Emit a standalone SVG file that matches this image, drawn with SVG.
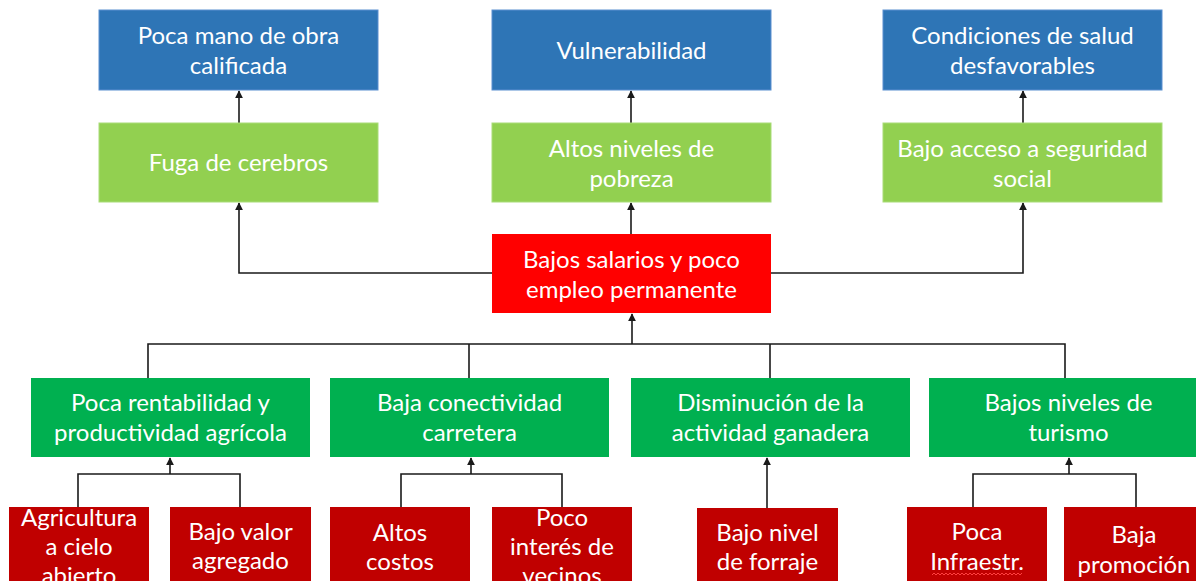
<svg xmlns="http://www.w3.org/2000/svg" width="1196" height="581" viewBox="0 0 1196 581">
  <style>
    .t { font-family: Lato, "Open Sans", "Liberation Sans", sans-serif; font-size: 24px; fill: #ffffff; text-anchor: middle; }
    .blue { fill: #2E75B6; stroke: #5B8FD0; stroke-width: 1; }
    .lgreen { fill: #92D050; stroke: #A9DC78; stroke-width: 1; }
    .red { fill: #FF0000; }
    .green { fill: #00B050; }
    .dred { fill: #C00000; }
    .c { fill: none; stroke: #1a1a1a; stroke-width: 1.6; }
    .ca { fill: none; stroke: #1a1a1a; stroke-width: 1.6; marker-end: url(#ah); }
  </style>
  <defs>
    <marker id="ah" viewBox="0 0 10 10" refX="9" refY="5" markerWidth="8" markerHeight="8" markerUnits="userSpaceOnUse" orient="auto">
      <path d="M0,0 L10,5 L0,10 Z" fill="#1a1a1a"/>
    </marker>
  </defs>
  <rect width="1196" height="581" fill="#ffffff"/>

  <g id="connectors">
    <path class="ca" d="M239,123 V91"/>
    <path class="ca" d="M631,123 V91"/>
    <path class="ca" d="M1023,123 V91"/>
    <path class="ca" d="M492,273 H239 V203"/>
    <path class="ca" d="M631,234 V203"/>
    <path class="ca" d="M771,273 H1023 V203"/>
    <path class="c" d="M148,378 V344 H1065 V378"/>
    <path class="c" d="M469,378 V344"/>
    <path class="c" d="M770,378 V344"/>
    <path class="ca" d="M632,344 V314"/>
    <path class="c" d="M78,507 V474 H240 V507"/>
    <path class="ca" d="M170,474 V458"/>
    <path class="c" d="M401,507 V474 H562 V507"/>
    <path class="ca" d="M471,474 V458"/>
    <path class="ca" d="M767,508 V458"/>
    <path class="c" d="M973,507 V474 H1136 V507"/>
    <path class="ca" d="M1069,474 V458"/>
  </g>

  <g id="n-poca-mano">
    <rect class="blue" x="99" y="10" width="279" height="80"/>
    <text class="t" x="238.5" y="44">Poca mano de obra</text>
    <text class="t" x="238.5" y="74">calificada</text>
  </g>
  <g id="n-vulnerabilidad">
    <rect class="blue" x="492" y="10" width="279" height="80"/>
    <text class="t" x="631.5" y="59">Vulnerabilidad</text>
  </g>
  <g id="n-condiciones">
    <rect class="blue" x="883" y="10" width="279" height="80"/>
    <text class="t" x="1022.5" y="44">Condiciones de salud</text>
    <text class="t" x="1022.5" y="74">desfavorables</text>
  </g>

  <g id="n-fuga">
    <rect class="lgreen" x="99" y="123" width="279" height="79"/>
    <text class="t" x="238.5" y="171">Fuga de cerebros</text>
  </g>
  <g id="n-altos-niveles">
    <rect class="lgreen" x="492" y="123" width="279" height="79"/>
    <text class="t" x="631.5" y="157">Altos niveles de</text>
    <text class="t" x="631.5" y="187">pobreza</text>
  </g>
  <g id="n-bajo-acceso">
    <rect class="lgreen" x="883" y="123" width="279" height="79"/>
    <text class="t" x="1022.5" y="157">Bajo acceso a seguridad</text>
    <text class="t" x="1022.5" y="187">social</text>
  </g>

  <g id="n-bajos-salarios">
    <rect class="red" x="492" y="234" width="279" height="79"/>
    <text class="t" x="631.5" y="268">Bajos salarios y poco</text>
    <text class="t" x="631.5" y="298">empleo permanente</text>
  </g>

  <g id="n-poca-rentabilidad">
    <rect class="green" x="31" y="378" width="279" height="79"/>
    <text class="t" x="170.5" y="411">Poca rentabilidad y</text>
    <text class="t" x="170.5" y="441">productividad agrícola</text>
  </g>
  <g id="n-baja-conectividad">
    <rect class="green" x="330" y="378" width="279" height="79"/>
    <text class="t" x="469.5" y="411">Baja conectividad</text>
    <text class="t" x="469.5" y="441">carretera</text>
  </g>
  <g id="n-disminucion">
    <rect class="green" x="631" y="378" width="279" height="79"/>
    <text class="t" x="770.5" y="411">Disminución de la</text>
    <text class="t" x="770.5" y="441">actividad ganadera</text>
  </g>
  <g id="n-bajos-turismo">
    <rect class="green" x="929" y="378" width="279" height="79"/>
    <text class="t" x="1068.5" y="411">Bajos niveles de</text>
    <text class="t" x="1068.5" y="441">turismo</text>
  </g>

  <g id="n-agricultura">
    <rect class="dred" x="9" y="507" width="140" height="90"/>
    <text class="t" x="79" y="526">Agricultura</text>
    <text class="t" x="79" y="555">a cielo</text>
    <text class="t" x="79" y="584">abierto</text>
  </g>
  <g id="n-bajo-valor">
    <rect class="dred" x="170" y="507" width="141" height="90"/>
    <text class="t" x="240.5" y="540">Bajo valor</text>
    <text class="t" x="240.5" y="569">agregado</text>
  </g>
  <g id="n-altos-costos">
    <rect class="dred" x="330" y="507" width="140" height="90"/>
    <text class="t" x="400" y="541">Altos</text>
    <text class="t" x="400" y="570">costos</text>
  </g>
  <g id="n-poco-interes">
    <rect class="dred" x="492" y="507" width="140" height="90"/>
    <text class="t" x="562" y="526">Poco</text>
    <text class="t" x="562" y="555">interés de</text>
    <text class="t" x="562" y="584">vecinos</text>
  </g>
  <g id="n-bajo-nivel">
    <rect class="dred" x="697" y="508" width="141" height="90"/>
    <text class="t" x="767.5" y="541">Bajo nivel</text>
    <text class="t" x="767.5" y="570">de forraje</text>
  </g>
  <g id="n-poca-infraestr">
    <rect class="dred" x="907" y="507" width="140" height="90"/>
    <text class="t" x="977" y="540">Poca</text>
    <text class="t" x="977" y="570">Infraestr.</text>
    <path d="M932,575 l2,-2 l2,2 l2,-2 l2,2 l2,-2 l2,2 l2,-2 l2,2 l2,-2 l2,2 l2,-2 l2,2 l2,-2 l2,2 l2,-2 l2,2 l2,-2 l2,2 l2,-2 l2,2 l2,-2 l2,2 l2,-2 l2,2 l2,-2 l2,2 l2,-2 l2,2 l2,-2 l2,2 l2,-2 l2,2 l2,-2 l2,2 l2,-2 l2,2 l2,-2 l2,2 l2,-2 l2,2 l2,-2 l2,2 l2,-2 l2,2 l2,-2" fill="none" stroke="#FF4040" stroke-width="1"/>
  </g>
  <g id="n-baja-promocion">
    <rect class="dred" x="1064" y="507" width="140" height="90"/>
    <text class="t" x="1134" y="543">Baja</text>
    <text class="t" x="1134" y="573">promoción</text>
  </g>
</svg>
